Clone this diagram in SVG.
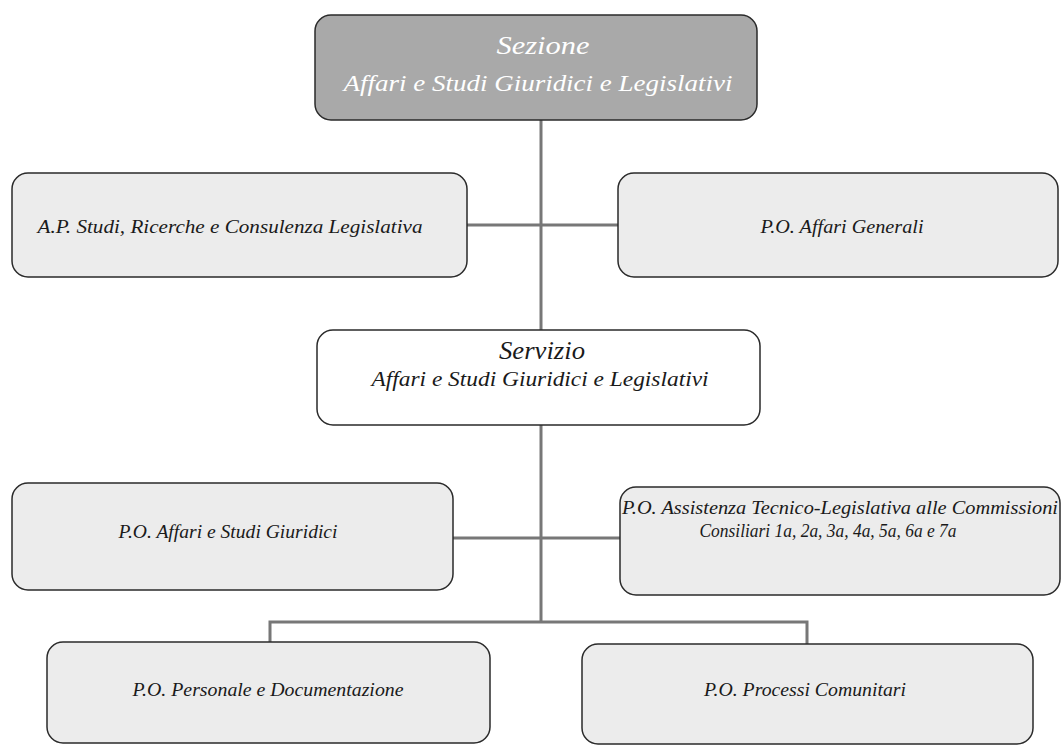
<svg xmlns="http://www.w3.org/2000/svg" width="1062" height="747" viewBox="0 0 1062 747">
<style>
.box{fill:#ececec;stroke:#2a2a2a;stroke-width:1.5}
.top{fill:#a9a9a9;stroke:#2a2a2a;stroke-width:1.5}
.srv{fill:#ffffff;stroke:#2a2a2a;stroke-width:1.5}
.t{font-family:"Liberation Serif","Times New Roman",serif;font-style:italic;fill:#1a1a1a;text-anchor:middle}
.w{fill:#ffffff}
.c{fill:none;stroke:#777777;stroke-width:3}
</style>
<rect width="1062" height="747" fill="#ffffff"/>
<g id="connectors">
<line class="c" x1="541" y1="120" x2="541" y2="330"/>
<line class="c" x1="467" y1="225" x2="618" y2="225"/>
<line class="c" x1="541" y1="425" x2="541" y2="622"/>
<line class="c" x1="453" y1="538" x2="620" y2="538"/>
<polyline class="c" points="270,642 270,622 807,622 807,644"/>
</g>
<g id="sezione">
<rect class="top" x="315" y="15" width="442" height="105" rx="16"/>
<text class="t w" x="543" y="54" font-size="25" textLength="93" lengthAdjust="spacingAndGlyphs">Sezione</text>
<text class="t w" x="538" y="91" font-size="24" textLength="389" lengthAdjust="spacingAndGlyphs">Affari e Studi Giuridici e Legislativi</text>
</g>
<g id="ap-studi">
<rect class="box" x="12" y="173" width="455" height="104" rx="16"/>
<text class="t" x="230" y="233" font-size="19" textLength="385" lengthAdjust="spacingAndGlyphs">A.P. Studi, Ricerche e Consulenza Legislativa</text>
</g>
<g id="affari-generali">
<rect class="box" x="618" y="173" width="440" height="104" rx="16"/>
<text class="t" x="842" y="233" font-size="19" textLength="163" lengthAdjust="spacingAndGlyphs">P.O. Affari Generali</text>
</g>
<g id="servizio">
<rect class="srv" x="317" y="330" width="443" height="95" rx="16"/>
<text class="t" x="542" y="359" font-size="25" textLength="86" lengthAdjust="spacingAndGlyphs">Servizio</text>
<text class="t" x="540" y="386" font-size="20" textLength="337" lengthAdjust="spacingAndGlyphs">Affari e Studi Giuridici e Legislativi</text>
</g>
<g id="affari-studi-giuridici">
<rect class="box" x="12" y="483" width="441" height="107" rx="16"/>
<text class="t" x="228" y="538" font-size="19" textLength="219" lengthAdjust="spacingAndGlyphs">P.O. Affari e Studi Giuridici</text>
</g>
<g id="assistenza">
<rect class="box" x="620" y="487" width="440" height="108" rx="16"/>
<text class="t" x="840" y="514" font-size="19" textLength="436" lengthAdjust="spacingAndGlyphs">P.O. Assistenza Tecnico-Legislativa alle Commissioni</text>
<text class="t" x="828" y="537" font-size="19" textLength="257" lengthAdjust="spacingAndGlyphs">Consiliari 1a, 2a, 3a, 4a, 5a, 6a e 7a</text>
</g>
<g id="personale">
<rect class="box" x="47" y="642" width="443" height="101" rx="16"/>
<text class="t" x="268" y="696" font-size="19" textLength="271" lengthAdjust="spacingAndGlyphs">P.O. Personale e Documentazione</text>
</g>
<g id="processi">
<rect class="box" x="582" y="644" width="451" height="100" rx="16"/>
<text class="t" x="805" y="696" font-size="19" textLength="202" lengthAdjust="spacingAndGlyphs">P.O. Processi Comunitari</text>
</g>
</svg>
